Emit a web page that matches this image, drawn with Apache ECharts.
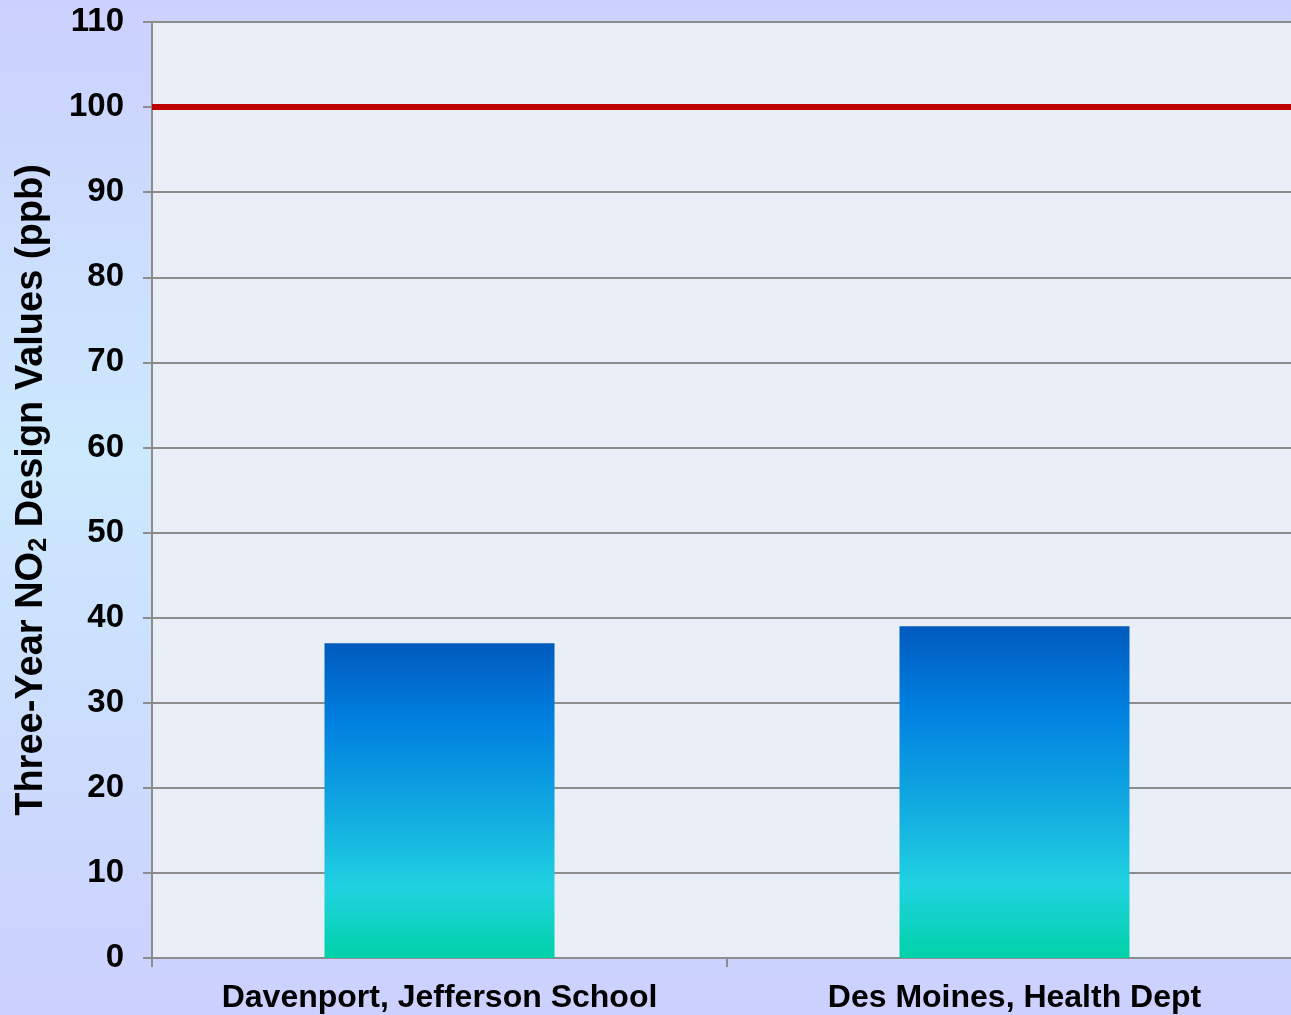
<!DOCTYPE html>
<html>
<head>
<meta charset="utf-8">
<script src="https://cdn.jsdelivr.net/npm/echarts@6/dist/echarts.min.js"></script>
<style>
html,body{margin:0;padding:0;}
#chart{width:1291px;height:1015px;}
</style>
</head>
<body>
<div id="chart"></div>
<script>
const sites = ['Davenport, Jefferson School', 'Des Moines, Health Dept'];
const designValues = [37, 39];
const naaqsStandard = [100];
const yTicks = { min: 0, max: 110, interval: 10 };

const chart = echarts.init(document.getElementById('chart'), null, { renderer: 'canvas' });
const font = 'Liberation Sans, Arial, sans-serif';
const option = {
  animation: false,
  backgroundColor: new echarts.graphic.LinearGradient(0, 0, 0, 1, [
    { offset: 0, color: '#ccd0fe' },
    { offset: 0.45, color: '#cce9fd' },
    { offset: 1, color: '#ccd0fe' }
  ]),
  grid: { left: 152, top: 22, width: 1150, height: 936, outerBoundsMode: 'none', containLabel: false, show: true, backgroundColor: '#eaeef7', borderWidth: 0 },
  xAxis: {
    type: 'category',
    data: sites,
    axisLine: { show: true, lineStyle: { color: '#8c8c8c', width: 2 } },
    axisTick: { show: true, alignWithLabel: false, length: 9, lineStyle: { color: '#8c8c8c', width: 2 } },
    axisLabel: { color: '#000', fontFamily: font, fontWeight: 'bold', fontSize: 32, margin: 24 },
    splitLine: { show: false }
  },
  yAxis: {
    type: 'value',
    min: yTicks.min, max: yTicks.max, interval: yTicks.interval,
    name: 'Three-Year NO{sub|2} Design Values (ppb)',
    nameLocation: 'middle',
    nameGap: 100,
    nameTextStyle: {
      color: '#000', fontFamily: font, fontWeight: 'bold', fontSize: 38,
      rich: {
        sub: { color: '#000', fontFamily: font, fontWeight: 'bold', fontSize: 25, verticalAlign: 'bottom', padding: [16, 0, 0, 0] }
      }
    },
    axisLine: { show: true, lineStyle: { color: '#8c8c8c', width: 2 } },
    axisTick: { show: true, length: 9, lineStyle: { color: '#8c8c8c', width: 2 } },
    axisLabel: { color: '#000', fontFamily: font, fontWeight: 'bold', fontSize: 33, margin: 28 },
    splitLine: { show: true, lineStyle: { color: '#8c8c8c', width: 2 } }
  },
  series: [{
    type: 'bar',
    data: designValues,
    barWidth: '40%',
    itemStyle: {
      color: new echarts.graphic.LinearGradient(0, 0, 0, 1, [
        { offset: 0, color: '#005abd' },
        { offset: 0.25, color: '#0080e0' },
        { offset: 0.55, color: '#12ace0' },
        { offset: 0.78, color: '#20d2e0' },
        { offset: 1, color: '#00d2a8' }
      ])
    },
    markLine: {
      silent: true,
      symbol: 'none',
      label: { show: false },
      lineStyle: { color: '#c00000', width: 6, type: 'solid' },
      data: naaqsStandard.map(v => ({ yAxis: v }))
    }
  }]
};
chart.setOption(option);
</script>
</body>
</html>
